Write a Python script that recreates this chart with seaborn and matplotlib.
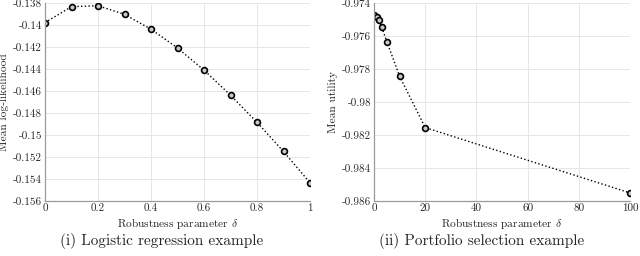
import matplotlib
matplotlib.use("Agg")
import matplotlib.pyplot as plt
import seaborn as sns
import pandas as pd

delta_logit = [0.0, 0.1, 0.2, 0.3, 0.4, 0.5, 0.6, 0.7, 0.8, 0.9, 1.0]
loglik = [-0.13978, -0.13833, -0.13825, -0.13903, -0.14038, -0.14209,
          -0.14410, -0.14638, -0.14885, -0.15150, -0.15434]

delta_port = [0, 1, 2, 3, 5, 10, 20, 100]
utility = [-0.97474, -0.97484, -0.97506, -0.97546, -0.97634, -0.97844,
           -0.98155, -0.98551]

sns.set_style("whitegrid")
plt.rcParams['font.family'] = ['cmr10', 'DejaVu Serif']
plt.rcParams['mathtext.fontset'] = 'cm'
plt.rcParams['axes.unicode_minus'] = False

fig = plt.figure(figsize=(6.4, 2.56), dpi=100)
ax1 = fig.add_axes([45/640, 1 - 201/256, 265/640, 198/256])
ax2 = fig.add_axes([374/640, 1 - 201/256, 256/640, 198/256])

df1 = pd.DataFrame({"d": delta_logit, "v": loglik})
df2 = pd.DataFrame({"d": delta_port, "v": utility})

for ax, df in [(ax1, df1), (ax2, df2)]:
    sns.lineplot(data=df, x="d", y="v", ax=ax, color="black", linestyle=":",
                 linewidth=1.0, marker="o", markersize=4.2,
                 markerfacecolor="#c8c8c8", markeredgecolor="black",
                 markeredgewidth=1.2)
    ax.grid(True, color="#e6e6e6", linewidth=0.7)
    for s in ["top", "right"]:
        ax.spines[s].set_visible(False)
    for s in ["left", "bottom"]:
        ax.spines[s].set_color("#9a9a9a")
        ax.spines[s].set_linewidth(0.9)
    ax.tick_params(direction="in", length=2.5, color="#9a9a9a",
                   labelsize=8, pad=2, labelcolor="#262626")
    ax.set_xlabel(r"Robustness parameter $\delta$", fontsize=8.2, labelpad=2,
                  color="#262626")

ax1.set_xlim(0, 1)
ax1.set_ylim(-0.156, -0.138)
ax1.set_xticks([0, 0.2, 0.4, 0.6, 0.8, 1.0])
ax1.set_xticklabels(["0", "0.2", "0.4", "0.6", "0.8", "1"])
yt1 = [-0.156, -0.154, -0.152, -0.150, -0.148, -0.146, -0.144, -0.142, -0.140, -0.138]
ax1.set_yticks(yt1)
ax1.set_yticklabels([("%.3f" % v).rstrip("0") for v in yt1])
ax1.set_ylabel("Mean log-likelihood", fontsize=8.2, labelpad=3, color="#262626")

ax2.set_xlim(0, 100)
ax2.set_ylim(-0.986, -0.974)
ax2.set_xticks([0, 20, 40, 60, 80, 100])
yt2 = [-0.986, -0.984, -0.982, -0.980, -0.978, -0.976, -0.974]
ax2.set_yticks(yt2)
ax2.set_yticklabels([("%.3f" % v).rstrip("0") for v in yt2])
ax2.set_ylabel("Mean utility", fontsize=8.2, labelpad=3, color="#262626")

fig.text(162/640, 1 - 241/256, "(i) Logistic regression example",
         ha="center", va="center", fontsize=11)
fig.text(482/640, 1 - 241/256, "(ii) Portfolio selection example",
         ha="center", va="center", fontsize=11)

fig.savefig("out.png", dpi=100)
